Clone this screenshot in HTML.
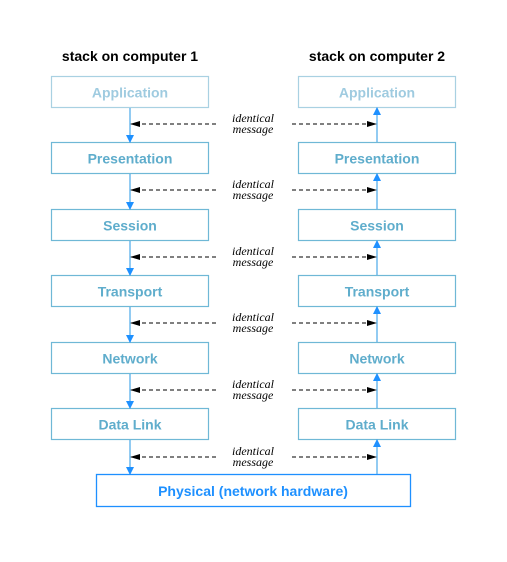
<!DOCTYPE html>
<html><head><style>html,body{margin:0;padding:0;background:#fff}</style></head>
<body>
<svg width="507" height="557" viewBox="0 0 507 557" xmlns="http://www.w3.org/2000/svg">
<defs>
<marker id="bd" markerWidth="8" markerHeight="10" refX="7" refY="5" orient="auto" markerUnits="userSpaceOnUse"><path d="M0,1 L8,5 L0,9 Z" fill="#1e90ff"/></marker>
<marker id="k" markerWidth="10" markerHeight="8" refX="9" refY="4" orient="auto" markerUnits="userSpaceOnUse"><path d="M0,1 L10,4 L0,7 Z" fill="#000"/></marker>
</defs>
<g font-family="Liberation Sans, sans-serif" font-weight="bold" font-size="14" fill="#000">
<text x="130" y="61" text-anchor="middle">stack on computer 1</text>
<text x="377" y="61" text-anchor="middle">stack on computer 2</text>
</g>
<g font-family="Liberation Sans, sans-serif" font-weight="bold" font-size="14" text-anchor="middle">
<rect x="51.5" y="76.5" width="157" height="31" fill="none" stroke="#a9d1e2" stroke-width="1.2"/>
<rect x="298.5" y="76.5" width="157" height="31" fill="none" stroke="#a9d1e2" stroke-width="1.2"/>
<text x="130" y="97.5" fill="#9fcbe0">Application</text>
<text x="377" y="97.5" fill="#9fcbe0">Application</text>
<g fill="none" stroke="#6fb8d6" stroke-width="1.2">
<rect x="51.5" y="142.5" width="157" height="31"/><rect x="298.5" y="142.5" width="157" height="31"/>
<rect x="51.5" y="209.5" width="157" height="31"/><rect x="298.5" y="209.5" width="157" height="31"/>
<rect x="51.5" y="275.5" width="157" height="31"/><rect x="298.5" y="275.5" width="157" height="31"/>
<rect x="51.5" y="342.5" width="157" height="31"/><rect x="298.5" y="342.5" width="157" height="31"/>
<rect x="51.5" y="408.5" width="157" height="31"/><rect x="298.5" y="408.5" width="157" height="31"/>
</g>
<g fill="#5fadcc">
<text x="130" y="163.5">Presentation</text><text x="377" y="163.5">Presentation</text>
<text x="130" y="230.5">Session</text><text x="377" y="230.5">Session</text>
<text x="130" y="296.5">Transport</text><text x="377" y="296.5">Transport</text>
<text x="130" y="363.5">Network</text><text x="377" y="363.5">Network</text>
<text x="130" y="429.5">Data Link</text><text x="377" y="429.5">Data Link</text>
</g>
<rect x="96.5" y="474.5" width="314" height="32" fill="none" stroke="#1e90ff" stroke-width="1.3"/>
<text x="253" y="496" fill="#1e90ff">Physical (network hardware)</text>
</g>
<g stroke-width="1.2">
<g stroke="#4aa8e8" marker-end="url(#bd)">
<line x1="130" y1="108" x2="130" y2="142"/><line x1="130" y1="174" x2="130" y2="209"/>
<line x1="130" y1="241" x2="130" y2="275"/><line x1="130" y1="307" x2="130" y2="342"/>
<line x1="130" y1="374" x2="130" y2="408"/><line x1="130" y1="440" x2="130" y2="474"/>
<line x1="377" y1="142" x2="377" y2="108"/><line x1="377" y1="209" x2="377" y2="174"/>
<line x1="377" y1="275" x2="377" y2="241"/><line x1="377" y1="342" x2="377" y2="307"/>
<line x1="377" y1="408" x2="377" y2="374"/><line x1="377" y1="474" x2="377" y2="440"/>
</g>
<g stroke="#000" stroke-dasharray="4,3" marker-end="url(#k)" stroke-width="1">
<line x1="216" y1="124" x2="131" y2="124"/><line x1="292" y1="124" x2="376" y2="124"/>
<line x1="216" y1="190" x2="131" y2="190"/><line x1="292" y1="190" x2="376" y2="190"/>
<line x1="216" y1="257" x2="131" y2="257"/><line x1="292" y1="257" x2="376" y2="257"/>
<line x1="216" y1="323" x2="131" y2="323"/><line x1="292" y1="323" x2="376" y2="323"/>
<line x1="216" y1="390" x2="131" y2="390"/><line x1="292" y1="390" x2="376" y2="390"/>
<line x1="216" y1="457" x2="131" y2="457"/><line x1="292" y1="457" x2="376" y2="457"/>
</g>
</g>
<g font-family="Liberation Serif, serif" font-style="italic" font-size="12" text-anchor="middle" fill="#000">
<text x="253" y="122">identical</text><text x="253" y="133">message</text>
<text x="253" y="188">identical</text><text x="253" y="199">message</text>
<text x="253" y="255">identical</text><text x="253" y="266">message</text>
<text x="253" y="321">identical</text><text x="253" y="332">message</text>
<text x="253" y="388">identical</text><text x="253" y="399">message</text>
<text x="253" y="455">identical</text><text x="253" y="466">message</text>
</g>
</svg>
</body></html>
